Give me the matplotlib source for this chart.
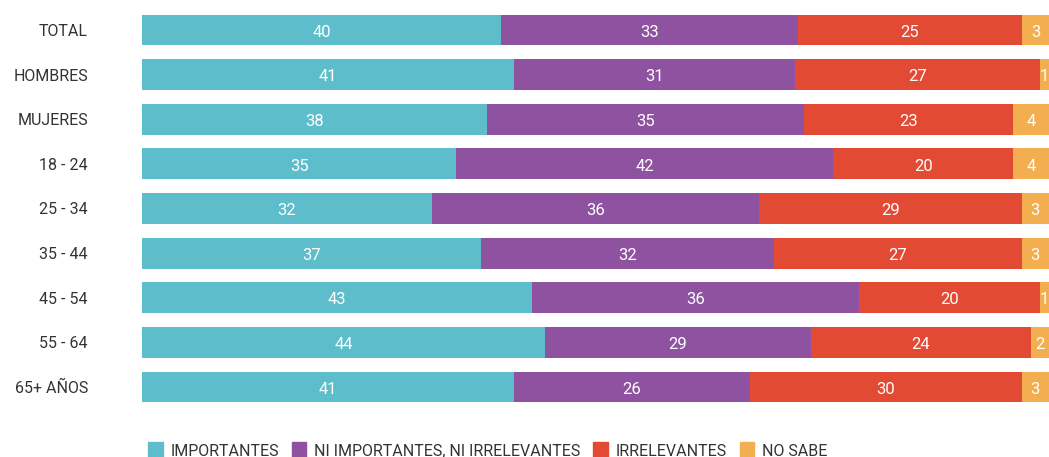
import numpy as np
import matplotlib.pyplot as plt
from matplotlib.patches import Patch

plt.rcParams['font.family'] = ['Roboto', 'DejaVu Sans']

categories = ["TOTAL", "HOMBRES", "MUJERES", "18 - 24", "25 - 34", "35 - 44",
              "45 - 54", "55 - 64", "65+ AÑOS"]
importantes = [40, 41, 38, 35, 32, 37, 43, 44, 41]
ni_ni = [33, 31, 35, 42, 36, 32, 36, 29, 26]
irrelevantes = [25, 27, 23, 20, 29, 27, 20, 24, 30]
no_sabe = [3, 1, 4, 4, 3, 3, 1, 2, 3]

series_names = ["IMPORTANTES", "NI IMPORTANTES, NI IRRELEVANTES", "IRRELEVANTES", "NO SABE"]
colors = ["#5dbdcb", "#8e52a0", "#e24a33", "#f3ae4f"]

data = np.array([importantes, ni_ni, irrelevantes, no_sabe], dtype=float)
shares = data / data.sum(axis=0) * 100

fig = plt.figure(figsize=(10.49, 4.57), dpi=100)
ax = fig.add_axes([142 / 1049, 1 - 409.3 / 457, 907 / 1049, (409.3 - 7.7) / 457])

y = np.arange(len(categories))
left = np.zeros(len(categories))
for vals, raw, c in zip(shares, data, colors):
    ax.barh(y, vals, left=left, height=0.69, color=c)
    for yi, l, v, r in zip(y, left, vals, raw):
        ax.text(l + v / 2, yi + 0.05, f"{int(r)}", ha="center", va="center",
                color="white", fontsize=12)
    left += vals

ax.set_xlim(0, 100)
ax.set_ylim(len(categories) - 0.5, -0.5)
ax.set_yticks(y)
ax.set_yticklabels(categories, fontsize=11.5, color="#333333")
ax.tick_params(axis="y", length=0, pad=39)
ax.set_xticks([])
for s in ax.spines.values():
    s.set_visible(False)

handles = [Patch(color=c, label=n) for c, n in zip(colors, series_names)]
fig.legend(handles=handles, loc="lower left", bbox_to_anchor=(134 / 1049, -0.035),
           ncol=4, frameon=False, fontsize=11.5, handlelength=0.9, handleheight=1.2,
           handletextpad=0.5, columnspacing=0.8, labelcolor="#333333")

fig.savefig("out.png", dpi=100)
